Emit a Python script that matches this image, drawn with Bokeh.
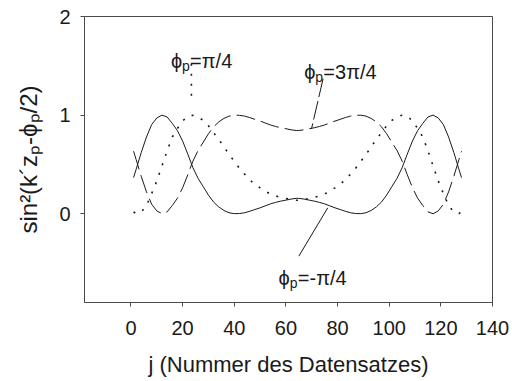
from bokeh.plotting import figure
from bokeh.models import Range1d, FixedTicker, Label
from bokeh.embed import file_html
from bokeh.resources import INLINE

# ---- data ----
j_vals = [1, 2, 4, 6, 8, 10, 12, 14, 16, 18, 20, 22, 24, 26, 28, 30, 32, 34, 36, 38, 40,
          42, 44, 46, 48, 50, 52, 54, 56, 58, 60, 62, 64,
          65, 67, 69, 71, 73, 75, 77, 79, 81, 83, 85, 87, 89, 91, 93, 95, 97, 99, 101,
          103, 105, 107, 109, 111, 113, 115, 117, 119, 121, 123, 125, 127, 128]

phi_minus_pi4 = [0.366, 0.451, 0.623, 0.778, 0.903, 0.971, 1.000, 0.981, 0.916, 0.842, 0.737,
                 0.605, 0.466, 0.358, 0.274, 0.189, 0.118, 0.069, 0.033, 0.010, 0.001,
                 0.002, 0.010, 0.025, 0.043, 0.060, 0.080, 0.100, 0.115, 0.128, 0.138, 0.149, 0.156,
                 0.156, 0.149, 0.138, 0.128, 0.115, 0.100, 0.080, 0.060, 0.043, 0.025, 0.010,
                 0.002, 0.001, 0.010, 0.033, 0.069, 0.118, 0.189, 0.274, 0.358, 0.466, 0.605,
                 0.737, 0.842, 0.916, 0.981, 1.000, 0.971, 0.903, 0.778, 0.623, 0.451, 0.366]

phi_pi4 = [0.018, 0.002, 0.016, 0.085, 0.204, 0.333, 0.485, 0.638, 0.778, 0.865, 0.941,
           0.989, 0.999, 0.980, 0.946, 0.892, 0.822, 0.754, 0.677, 0.601, 0.532,
           0.461, 0.402, 0.344, 0.298, 0.263, 0.229, 0.200, 0.181, 0.165, 0.155, 0.144, 0.137,
           0.137, 0.144, 0.155, 0.165, 0.181, 0.200, 0.229, 0.263, 0.298, 0.344, 0.402,
           0.461, 0.532, 0.601, 0.677, 0.754, 0.822, 0.892, 0.946, 0.980, 0.999, 0.989,
           0.941, 0.865, 0.778, 0.638, 0.485, 0.333, 0.204, 0.085, 0.016, 0.002, 0.018]

phi_3pi4 = [0.634, 0.549, 0.377, 0.222, 0.097, 0.029, 0.000, 0.019, 0.084, 0.158, 0.263,
            0.395, 0.534, 0.642, 0.726, 0.811, 0.882, 0.931, 0.967, 0.990, 0.999,
            0.998, 0.990, 0.975, 0.957, 0.940, 0.920, 0.900, 0.885, 0.872, 0.862, 0.851, 0.844,
            0.844, 0.851, 0.862, 0.872, 0.885, 0.900, 0.920, 0.940, 0.957, 0.975, 0.990,
            0.998, 0.999, 0.990, 0.967, 0.931, 0.882, 0.811, 0.726, 0.642, 0.534, 0.395,
            0.263, 0.158, 0.084, 0.019, 0.000, 0.029, 0.097, 0.222, 0.377, 0.549, 0.634]

x_ticks = [0, 20, 40, 60, 80, 100, 120, 140]
y_ticks = [0, 1, 2]
x_label = "j (Nummer des Datensatzes)"
PHI = "\u03d5"
y_label = "sin\u00b2(k\u00b4z\u209a-" + PHI + "\u209a/2)"

# ---- styling ----
FONT = "Liberation Sans"
INK = "#1a1a1a"
FRAME = "#4a4a4a"

p = figure(width=512, height=381, output_backend="svg", toolbar_location=None,
           x_range=Range1d(-18, 140), y_range=Range1d(-0.9, 2.0),
           min_border_left=84, min_border_right=20, min_border_top=16, min_border_bottom=79)
p.background_fill_color = "white"
p.border_fill_color = "white"
p.xgrid.visible = False
p.ygrid.visible = False
p.outline_line_color = FRAME
p.outline_line_width = 1

p.xaxis.ticker = FixedTicker(ticks=x_ticks)
p.yaxis.ticker = FixedTicker(ticks=y_ticks)
for ax in (p.xaxis[0], p.yaxis[0]):
    ax.axis_line_color = FRAME
    ax.major_tick_line_color = FRAME
    ax.major_tick_in = 0
    ax.major_tick_out = 4
    ax.minor_tick_in = 0
    ax.minor_tick_out = 0
    ax.major_label_text_font = FONT
    ax.major_label_text_font_size = "20px"
    ax.major_label_text_color = INK
    ax.axis_label_text_font = FONT
    ax.axis_label_text_font_style = "normal"
    ax.axis_label_text_color = INK
p.xaxis.axis_label = x_label
p.yaxis.axis_label = y_label
p.xaxis.axis_label_text_font_size = "22px"
p.yaxis.axis_label_text_font_size = "24px"
p.xaxis.major_label_standoff = 14
p.yaxis.major_label_standoff = 10
p.xaxis.axis_label_standoff = 14
p.yaxis.axis_label_standoff = 14

DOT = "2 8"
DASH = "19 6"

# ---- curves ----
p.line(j_vals, phi_minus_pi4, line_color=INK, line_width=1)
p.line(j_vals, phi_3pi4, line_color=INK, line_width=1, line_dash=DASH)
p.line(j_vals, phi_pi4, line_color=INK, line_width=1.6, line_dash=DOT)

# ---- leader lines (annotation geometry) ----
p.segment(x0=[23.4], y0=[1.52], x1=[23.4], y1=[1.12], line_color=INK, line_width=1.6, line_dash=DOT)
p.segment(x0=[74.4], y0=[1.37], x1=[69.9], y1=[0.86], line_color=INK, line_width=1, line_dash="19 4")
p.segment(x0=[76.2], y0=[0.06], x1=[65.0], y1=[-0.43], line_color=INK, line_width=1)

# ---- annotation labels: phi, subscript p, rest ----
def phi_label(xa, ya, rest):
    p.add_layout(Label(x=xa, y=ya, text=PHI, text_align="right", text_baseline="alphabetic",
                       text_font=FONT, text_font_size="20px", text_color=INK))
    p.add_layout(Label(x=xa, y=ya, y_offset=-5, text="p", text_align="left", text_baseline="alphabetic",
                       text_font=FONT, text_font_size="14px", text_color=INK))
    p.add_layout(Label(x=xa, y=ya, x_offset=8, text=rest, text_align="left", text_baseline="alphabetic",
                       text_font=FONT, text_font_size="20px", text_color=INK))

phi_label(19.8, 1.553, "=\u03c0/4")
phi_label(71.4, 1.434, "=3\u03c0/4")
phi_label(61.5, -0.651, "=-\u03c0/4")

open("out.html", "w").write(file_html(p, INLINE))
